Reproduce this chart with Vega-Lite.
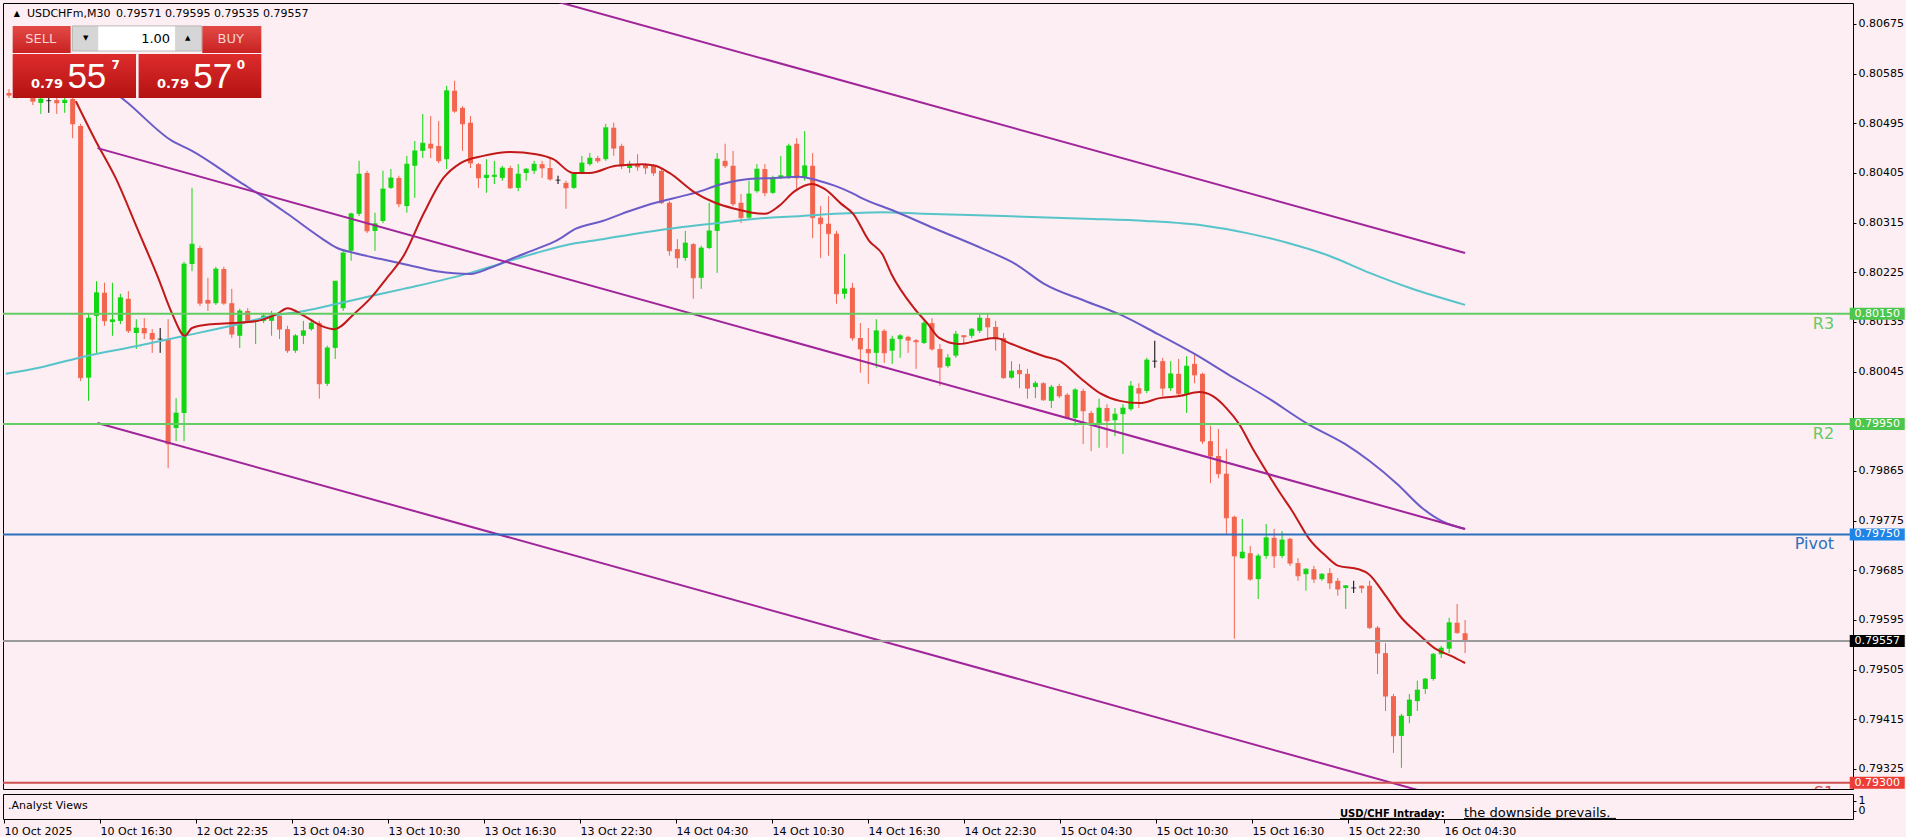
{
"$schema":"https://vega.github.io/schema/vega-lite/v6.json",
"background":"#FCEEF2",
"padding":{"left":2,"top":2,"right":0,"bottom":0},
"spacing":3,
"config":{"view":{"stroke":"#000000","strokeWidth":1,"fill":"#FCEEF2"},"font":"DejaVu Sans"},
"datasets":{
"candles":[
{"i":0,"o":0.8055,"h":0.80557,"l":0.80541,"c":0.80546},
{"i":1,"o":0.80546,"h":0.80552,"l":0.8054,"c":0.80549},
{"i":2,"o":0.80549,"h":0.80556,"l":0.80541,"c":0.80545},
{"i":3,"o":0.80541,"h":0.80546,"l":0.80528,"c":0.80535},
{"i":4,"o":0.80532,"h":0.80545,"l":0.80512,"c":0.80539},
{"i":5,"o":0.80536,"h":0.80545,"l":0.80514,"c":0.80536},
{"i":6,"o":0.80537,"h":0.80543,"l":0.80512,"c":0.80532},
{"i":7,"o":0.80532,"h":0.80543,"l":0.80514,"c":0.80537},
{"i":8,"o":0.80539,"h":0.80545,"l":0.80468,"c":0.80494},
{"i":9,"o":0.8049,"h":0.80494,"l":0.80028,"c":0.80034},
{"i":10,"o":0.80034,"h":0.80151,"l":0.79992,"c":0.80142},
{"i":11,"o":0.80146,"h":0.80209,"l":0.80077,"c":0.80188},
{"i":12,"o":0.80188,"h":0.80206,"l":0.80128,"c":0.80137},
{"i":13,"o":0.80135,"h":0.80206,"l":0.8011,"c":0.80139},
{"i":14,"o":0.80137,"h":0.80186,"l":0.80131,"c":0.80179},
{"i":15,"o":0.80177,"h":0.80191,"l":0.80115,"c":0.80119},
{"i":16,"o":0.80115,"h":0.8014,"l":0.80086,"c":0.80124},
{"i":17,"o":0.80124,"h":0.80142,"l":0.80104,"c":0.80115},
{"i":18,"o":0.80115,"h":0.80122,"l":0.80079,"c":0.80104},
{"i":19,"o":0.80104,"h":0.80124,"l":0.80079,"c":0.80104},
{"i":20,"o":0.80104,"h":0.8014,"l":0.7987,"c":0.79914},
{"i":21,"o":0.79943,"h":0.79997,"l":0.79919,"c":0.7997},
{"i":22,"o":0.7997,"h":0.80244,"l":0.79919,"c":0.8024},
{"i":23,"o":0.8024,"h":0.80378,"l":0.80227,"c":0.80276},
{"i":24,"o":0.80269,"h":0.80273,"l":0.80164,"c":0.80169},
{"i":25,"o":0.80175,"h":0.80215,"l":0.80155,"c":0.80169},
{"i":26,"o":0.80169,"h":0.80235,"l":0.80166,"c":0.80231},
{"i":27,"o":0.80231,"h":0.80235,"l":0.80166,"c":0.80169},
{"i":28,"o":0.80169,"h":0.80195,"l":0.80106,"c":0.80113},
{"i":29,"o":0.8011,"h":0.80159,"l":0.80088,"c":0.80155},
{"i":30,"o":0.80155,"h":0.8016,"l":0.80133,"c":0.80137},
{"i":31,"o":0.80135,"h":0.8014,"l":0.80095,"c":0.80137},
{"i":32,"o":0.80137,"h":0.8015,"l":0.80133,"c":0.80146},
{"i":33,"o":0.80137,"h":0.80155,"l":0.8011,"c":0.80146},
{"i":34,"o":0.80146,"h":0.8015,"l":0.80104,"c":0.80122},
{"i":35,"o":0.80122,"h":0.80128,"l":0.80079,"c":0.80083},
{"i":36,"o":0.80083,"h":0.80113,"l":0.80079,"c":0.8011},
{"i":37,"o":0.8011,"h":0.80137,"l":0.80095,"c":0.80119},
{"i":38,"o":0.80122,"h":0.80137,"l":0.80119,"c":0.80133},
{"i":39,"o":0.80133,"h":0.80137,"l":0.79996,"c":0.80023},
{"i":40,"o":0.80023,"h":0.80092,"l":0.80019,"c":0.80088},
{"i":41,"o":0.80088,"h":0.80209,"l":0.80068,"c":0.80209},
{"i":42,"o":0.8016,"h":0.80264,"l":0.80155,"c":0.8026},
{"i":43,"o":0.80264,"h":0.80333,"l":0.80246,"c":0.80331},
{"i":44,"o":0.80331,"h":0.80427,"l":0.80327,"c":0.80403},
{"i":45,"o":0.80405,"h":0.80409,"l":0.80296,"c":0.803},
{"i":46,"o":0.803,"h":0.80333,"l":0.80264,"c":0.80313},
{"i":47,"o":0.80318,"h":0.80409,"l":0.80314,"c":0.80376},
{"i":48,"o":0.80378,"h":0.80412,"l":0.80376,"c":0.80396},
{"i":49,"o":0.80396,"h":0.804,"l":0.80343,"c":0.80349},
{"i":50,"o":0.80345,"h":0.80436,"l":0.80333,"c":0.80421},
{"i":51,"o":0.80418,"h":0.80463,"l":0.8036,"c":0.80445},
{"i":52,"o":0.80445,"h":0.80512,"l":0.80432,"c":0.80459},
{"i":53,"o":0.80458,"h":0.80508,"l":0.80432,"c":0.8045},
{"i":54,"o":0.80454,"h":0.80499,"l":0.80423,"c":0.80427},
{"i":55,"o":0.8043,"h":0.80563,"l":0.80412,"c":0.80554},
{"i":56,"o":0.80554,"h":0.80572,"l":0.80514,"c":0.80517},
{"i":57,"o":0.80523,"h":0.80526,"l":0.80445,"c":0.80494},
{"i":58,"o":0.80496,"h":0.80508,"l":0.80414,"c":0.80423},
{"i":59,"o":0.80421,"h":0.80423,"l":0.80378,"c":0.80396},
{"i":60,"o":0.80396,"h":0.8043,"l":0.80369,"c":0.80401},
{"i":61,"o":0.80398,"h":0.80427,"l":0.80385,"c":0.80401},
{"i":62,"o":0.80396,"h":0.80418,"l":0.80391,"c":0.80414},
{"i":63,"o":0.80414,"h":0.80418,"l":0.80376,"c":0.80378},
{"i":64,"o":0.80378,"h":0.80421,"l":0.80372,"c":0.80403},
{"i":65,"o":0.80405,"h":0.80414,"l":0.80391,"c":0.80412},
{"i":66,"o":0.80409,"h":0.80427,"l":0.80403,"c":0.80421},
{"i":67,"o":0.80421,"h":0.80427,"l":0.80396,"c":0.80414},
{"i":68,"o":0.80414,"h":0.80432,"l":0.80391,"c":0.80394},
{"i":69,"o":0.80392,"h":0.804,"l":0.80385,"c":0.80392},
{"i":70,"o":0.80387,"h":0.80391,"l":0.8034,"c":0.80378},
{"i":71,"o":0.80378,"h":0.80403,"l":0.80376,"c":0.80403},
{"i":72,"o":0.80405,"h":0.80436,"l":0.80403,"c":0.80423},
{"i":73,"o":0.80421,"h":0.80441,"l":0.80418,"c":0.80432},
{"i":74,"o":0.80432,"h":0.80436,"l":0.80423,"c":0.80427},
{"i":75,"o":0.8043,"h":0.80494,"l":0.80427,"c":0.80487},
{"i":76,"o":0.80487,"h":0.80496,"l":0.80436,"c":0.8045},
{"i":77,"o":0.80454,"h":0.80458,"l":0.80412,"c":0.80418},
{"i":78,"o":0.80414,"h":0.80427,"l":0.80405,"c":0.80421},
{"i":79,"o":0.80421,"h":0.80439,"l":0.80409,"c":0.80416},
{"i":80,"o":0.8042,"h":0.80423,"l":0.80403,"c":0.80414},
{"i":81,"o":0.80418,"h":0.80421,"l":0.804,"c":0.80405},
{"i":82,"o":0.80409,"h":0.80412,"l":0.80349,"c":0.80351},
{"i":83,"o":0.80351,"h":0.80354,"l":0.80255,"c":0.80264},
{"i":84,"o":0.80267,"h":0.80285,"l":0.80233,"c":0.80251},
{"i":85,"o":0.80251,"h":0.803,"l":0.80246,"c":0.80278},
{"i":86,"o":0.80276,"h":0.80278,"l":0.80177,"c":0.80215},
{"i":87,"o":0.80215,"h":0.80273,"l":0.80195,"c":0.80269},
{"i":88,"o":0.80269,"h":0.80351,"l":0.80267,"c":0.803},
{"i":89,"o":0.803,"h":0.80441,"l":0.80224,"c":0.8043},
{"i":90,"o":0.80427,"h":0.80458,"l":0.80414,"c":0.80418},
{"i":91,"o":0.80418,"h":0.80445,"l":0.80345,"c":0.80349},
{"i":92,"o":0.80351,"h":0.80367,"l":0.80314,"c":0.80324},
{"i":93,"o":0.80324,"h":0.80391,"l":0.80322,"c":0.80367},
{"i":94,"o":0.80372,"h":0.80421,"l":0.80369,"c":0.80412},
{"i":95,"o":0.80412,"h":0.80421,"l":0.80363,"c":0.80369},
{"i":96,"o":0.80369,"h":0.804,"l":0.80367,"c":0.80396},
{"i":97,"o":0.80396,"h":0.80436,"l":0.80394,"c":0.804},
{"i":98,"o":0.80396,"h":0.80458,"l":0.80394,"c":0.80454},
{"i":99,"o":0.80458,"h":0.80468,"l":0.80372,"c":0.80396},
{"i":100,"o":0.80396,"h":0.80481,"l":0.80391,"c":0.80418},
{"i":101,"o":0.80418,"h":0.80441,"l":0.80287,"c":0.80324},
{"i":102,"o":0.80324,"h":0.80345,"l":0.80251,"c":0.80313},
{"i":103,"o":0.80313,"h":0.80363,"l":0.80255,"c":0.80295},
{"i":104,"o":0.80295,"h":0.803,"l":0.80168,"c":0.80186},
{"i":105,"o":0.80186,"h":0.80258,"l":0.80177,"c":0.80195},
{"i":106,"o":0.80197,"h":0.80206,"l":0.80101,"c":0.80106},
{"i":107,"o":0.80106,"h":0.80133,"l":0.80043,"c":0.80086},
{"i":108,"o":0.80086,"h":0.80124,"l":0.80023,"c":0.80079},
{"i":109,"o":0.80079,"h":0.8014,"l":0.80052,"c":0.80119},
{"i":110,"o":0.80119,"h":0.80122,"l":0.80061,"c":0.80079},
{"i":111,"o":0.80083,"h":0.8011,"l":0.80059,"c":0.80104},
{"i":112,"o":0.80104,"h":0.80113,"l":0.8007,"c":0.8011},
{"i":113,"o":0.80108,"h":0.8011,"l":0.80079,"c":0.80102},
{"i":114,"o":0.80102,"h":0.80104,"l":0.8005,"c":0.80099},
{"i":115,"o":0.80097,"h":0.80137,"l":0.80095,"c":0.80133},
{"i":116,"o":0.80133,"h":0.80142,"l":0.80083,"c":0.80086},
{"i":117,"o":0.80086,"h":0.80095,"l":0.80019,"c":0.80053},
{"i":118,"o":0.80055,"h":0.80077,"l":0.80052,"c":0.8007},
{"i":119,"o":0.80074,"h":0.80119,"l":0.8007,"c":0.80113},
{"i":120,"o":0.80111,"h":0.80111,"l":0.80097,"c":0.80108},
{"i":121,"o":0.8011,"h":0.80124,"l":0.80106,"c":0.80122},
{"i":122,"o":0.80119,"h":0.8015,"l":0.80115,"c":0.80142},
{"i":123,"o":0.80142,"h":0.80151,"l":0.80106,"c":0.80126},
{"i":124,"o":0.80126,"h":0.80137,"l":0.80083,"c":0.80104},
{"i":125,"o":0.80106,"h":0.80115,"l":0.80032,"c":0.80034},
{"i":126,"o":0.80034,"h":0.80064,"l":0.80032,"c":0.80046},
{"i":127,"o":0.80048,"h":0.80059,"l":0.80015,"c":0.80041},
{"i":128,"o":0.80041,"h":0.8005,"l":0.79996,"c":0.80015},
{"i":129,"o":0.80017,"h":0.80028,"l":0.79997,"c":0.80024},
{"i":130,"o":0.80024,"h":0.80026,"l":0.79992,"c":0.79994},
{"i":131,"o":0.79992,"h":0.80021,"l":0.79979,"c":0.80017},
{"i":132,"o":0.80019,"h":0.80023,"l":0.79997,"c":0.80001},
{"i":133,"o":0.80003,"h":0.80006,"l":0.79959,"c":0.79961},
{"i":134,"o":0.79961,"h":0.80015,"l":0.79947,"c":0.80012},
{"i":135,"o":0.8001,"h":0.80014,"l":0.79914,"c":0.79974},
{"i":136,"o":0.7997,"h":0.79974,"l":0.79901,"c":0.79952},
{"i":137,"o":0.79952,"h":0.79996,"l":0.79907,"c":0.79979},
{"i":138,"o":0.79979,"h":0.79986,"l":0.79907,"c":0.79956},
{"i":139,"o":0.79957,"h":0.79979,"l":0.79928,"c":0.79968},
{"i":140,"o":0.79968,"h":0.79986,"l":0.79896,"c":0.79979},
{"i":141,"o":0.79977,"h":0.80028,"l":0.79974,"c":0.80019},
{"i":142,"o":0.80015,"h":0.80024,"l":0.79979,"c":0.80006},
{"i":143,"o":0.8001,"h":0.8007,"l":0.80006,"c":0.80066},
{"i":144,"o":0.80064,"h":0.80101,"l":0.80052,"c":0.80064},
{"i":145,"o":0.80064,"h":0.8007,"l":0.80001,"c":0.80015},
{"i":146,"o":0.80015,"h":0.80064,"l":0.8001,"c":0.80041},
{"i":147,"o":0.80041,"h":0.80068,"l":0.80001,"c":0.80005},
{"i":148,"o":0.80005,"h":0.80073,"l":0.7997,"c":0.80055},
{"i":149,"o":0.80059,"h":0.80077,"l":0.80024,"c":0.80039},
{"i":150,"o":0.80041,"h":0.80043,"l":0.79914,"c":0.79919},
{"i":151,"o":0.79919,"h":0.79947,"l":0.79843,"c":0.79892},
{"i":152,"o":0.79892,"h":0.79941,"l":0.79852,"c":0.7986},
{"i":153,"o":0.7986,"h":0.79905,"l":0.79751,"c":0.7978},
{"i":154,"o":0.79782,"h":0.79784,"l":0.79561,"c":0.79711},
{"i":155,"o":0.79707,"h":0.79778,"l":0.79706,"c":0.79718},
{"i":156,"o":0.79716,"h":0.79729,"l":0.79666,"c":0.79669},
{"i":157,"o":0.79669,"h":0.79715,"l":0.79633,"c":0.79711},
{"i":158,"o":0.79711,"h":0.79769,"l":0.79706,"c":0.79744},
{"i":159,"o":0.79744,"h":0.7976,"l":0.79689,"c":0.79711},
{"i":160,"o":0.79711,"h":0.79756,"l":0.79707,"c":0.7974},
{"i":161,"o":0.79742,"h":0.79744,"l":0.79693,"c":0.79698},
{"i":162,"o":0.79698,"h":0.79707,"l":0.79666,"c":0.79675},
{"i":163,"o":0.79678,"h":0.79689,"l":0.79648,"c":0.79687},
{"i":164,"o":0.79687,"h":0.79693,"l":0.79662,"c":0.79669},
{"i":165,"o":0.79669,"h":0.7968,"l":0.79666,"c":0.79678},
{"i":166,"o":0.7968,"h":0.79689,"l":0.79651,"c":0.79662},
{"i":167,"o":0.79666,"h":0.79671,"l":0.79639,"c":0.79651},
{"i":168,"o":0.79653,"h":0.79658,"l":0.79615,"c":0.79657},
{"i":169,"o":0.79653,"h":0.79666,"l":0.79644,"c":0.79653},
{"i":170,"o":0.79657,"h":0.79658,"l":0.79644,"c":0.79653},
{"i":171,"o":0.79657,"h":0.79666,"l":0.79579,"c":0.79581},
{"i":172,"o":0.79581,"h":0.79584,"l":0.79497,"c":0.79535},
{"i":173,"o":0.79535,"h":0.79553,"l":0.7943,"c":0.79457},
{"i":174,"o":0.79457,"h":0.79461,"l":0.79354,"c":0.79385},
{"i":175,"o":0.79385,"h":0.79425,"l":0.79327,"c":0.79421},
{"i":176,"o":0.79421,"h":0.79461,"l":0.79408,"c":0.7945},
{"i":177,"o":0.79448,"h":0.79485,"l":0.7943,"c":0.79468},
{"i":178,"o":0.7947,"h":0.7949,"l":0.79461,"c":0.79488},
{"i":179,"o":0.79488,"h":0.79535,"l":0.79485,"c":0.79533},
{"i":180,"o":0.79533,"h":0.79548,"l":0.79526,"c":0.79544},
{"i":181,"o":0.79543,"h":0.79599,"l":0.79535,"c":0.7959},
{"i":182,"o":0.7959,"h":0.79624,"l":0.7957,"c":0.79572},
{"i":183,"o":0.79571,"h":0.79595,"l":0.79535,"c":0.79557}
],
"ma_red":[
{"i":8.4,"v":0.80535},{"i":10.9,"v":0.80463},{"i":13.4,"v":0.80396},{"i":16.25,"v":0.803},{"i":18.75,"v":0.80215},{"i":20.5,"v":0.8015},{"i":22.1,"v":0.8011},{"i":23,"v":0.80124},{"i":25.5,"v":0.80131},{"i":28,"v":0.80133},{"i":31.25,"v":0.80137},{"i":33.75,"v":0.8015},{"i":35,"v":0.8016},{"i":37.1,"v":0.80146},{"i":39.25,"v":0.80128},{"i":40.9,"v":0.80122},{"i":43.4,"v":0.8015},{"i":45.5,"v":0.80179},{"i":47.5,"v":0.80215},{"i":49.6,"v":0.80255},{"i":52.1,"v":0.80331},{"i":54.6,"v":0.80396},{"i":56.75,"v":0.80423},{"i":59.6,"v":0.80436},{"i":63,"v":0.80443},{"i":66.25,"v":0.80439},{"i":68.4,"v":0.8043},{"i":70.9,"v":0.80405},{"i":73,"v":0.80405},{"i":76.25,"v":0.80418},{"i":79.6,"v":0.80421},{"i":81.25,"v":0.80418},{"i":83,"v":0.80405},{"i":86.25,"v":0.80369},{"i":88.75,"v":0.80351},{"i":91.25,"v":0.8034},{"i":93.4,"v":0.80333},{"i":95,"v":0.80331},{"i":96.75,"v":0.80345},{"i":98.75,"v":0.80372},{"i":100.9,"v":0.80385},{"i":102.5,"v":0.80376},{"i":104.6,"v":0.80349},{"i":106.1,"v":0.80331},{"i":108.1,"v":0.80282},{"i":109.75,"v":0.80258},{"i":110.9,"v":0.80222},{"i":113.75,"v":0.8016},{"i":115.5,"v":0.80131},{"i":116.9,"v":0.80106},{"i":119.4,"v":0.80095},{"i":122,"v":0.80102},{"i":124,"v":0.80106},{"i":126,"v":0.80095},{"i":130.1,"v":0.80073},{"i":132.1,"v":0.80064},{"i":134.6,"v":0.80034},{"i":137.1,"v":0.80006},{"i":139.6,"v":0.79992},{"i":142.1,"v":0.79988},{"i":144.6,"v":0.79997},{"i":147.1,"v":0.80001},{"i":149.6,"v":0.80008},{"i":151.25,"v":0.80001},{"i":153,"v":0.79979},{"i":154.6,"v":0.7995},{"i":156.25,"v":0.79907},{"i":158,"v":0.79865},{"i":159.75,"v":0.79825},{"i":161.25,"v":0.79793},{"i":163.4,"v":0.79742},{"i":165.5,"v":0.79711},{"i":167.1,"v":0.79693},{"i":169.6,"v":0.79687},{"i":170.9,"v":0.79678},{"i":173,"v":0.79639},{"i":175,"v":0.79599},{"i":177.1,"v":0.7957},{"i":179.25,"v":0.79543},{"i":181.25,"v":0.7953},{"i":183,"v":0.79517}
],
"ma_blue":[
{"i":10,"v":0.80586},{"i":14.6,"v":0.80536},{"i":20.5,"v":0.80463},{"i":23,"v":0.80445},{"i":28.75,"v":0.80391},{"i":32.1,"v":0.8036},{"i":35,"v":0.80331},{"i":39.25,"v":0.80287},{"i":41.25,"v":0.80269},{"i":43.4,"v":0.8026},{"i":46.75,"v":0.80249},{"i":49.6,"v":0.8024},{"i":53.75,"v":0.80227},{"i":58,"v":0.80222},{"i":60.5,"v":0.80233},{"i":63.4,"v":0.80251},{"i":66.25,"v":0.80267},{"i":68.75,"v":0.80282},{"i":71.25,"v":0.80304},{"i":74.6,"v":0.80318},{"i":78,"v":0.80336},{"i":81.25,"v":0.80351},{"i":84.6,"v":0.80363},{"i":86.25,"v":0.80369},{"i":89.6,"v":0.80385},{"i":93,"v":0.80394},{"i":96.25,"v":0.80396},{"i":99.25,"v":0.80398},{"i":101.75,"v":0.80391},{"i":103.75,"v":0.80382},{"i":105.9,"v":0.80369},{"i":107.1,"v":0.8036},{"i":111.25,"v":0.80336},{"i":116.4,"v":0.80304},{"i":122.5,"v":0.80267},{"i":126.5,"v":0.8024},{"i":130.1,"v":0.80204},{"i":135.25,"v":0.80173},{"i":139.4,"v":0.8015},{"i":144.4,"v":0.80113},{"i":149,"v":0.80077},{"i":153.1,"v":0.80041},{"i":158.25,"v":0.79997},{"i":163.25,"v":0.7995},{"i":167.9,"v":0.79914},{"i":171,"v":0.79883},{"i":174.5,"v":0.79841},{"i":177.6,"v":0.79798},{"i":180.1,"v":0.79774},{"i":183,"v":0.7976}
],
"ma_cyan":[
{"i":-0.4,"v":0.80041},{"i":3.75,"v":0.80052},{"i":9.6,"v":0.80073},{"i":16.25,"v":0.80092},{"i":22.1,"v":0.8011},{"i":28.75,"v":0.80131},{"i":33,"v":0.80146},{"i":37.1,"v":0.80155},{"i":41.25,"v":0.80168},{"i":45.5,"v":0.80182},{"i":49.6,"v":0.80195},{"i":58,"v":0.80224},{"i":62.1,"v":0.80242},{"i":66.25,"v":0.8026},{"i":70.5,"v":0.80276},{"i":74.6,"v":0.80285},{"i":78.75,"v":0.80295},{"i":83,"v":0.80304},{"i":87.1,"v":0.80311},{"i":91.25,"v":0.80318},{"i":95.5,"v":0.80324},{"i":99.6,"v":0.80327},{"i":103.75,"v":0.80331},{"i":109.75,"v":0.80334},{"i":114.9,"v":0.80331},{"i":125,"v":0.80327},{"i":135.25,"v":0.80322},{"i":142.9,"v":0.80318},{"i":150.5,"v":0.80309},{"i":155.6,"v":0.80296},{"i":160.75,"v":0.80278},{"i":165.9,"v":0.80255},{"i":171,"v":0.80224},{"i":176,"v":0.80197},{"i":183,"v":0.80166}
],
"channel":[
{"line":"upper","i":11.125,"v":0.80946},{"line":"upper","i":183,"v":0.8026},
{"line":"middle","i":11.125,"v":0.8045},{"line":"middle","i":183,"v":0.7976},
{"line":"lower","i":11.125,"v":0.79952},{"line":"lower","i":183,"v":0.79263}
],
"levels":[
{"name":"R3","v":0.8015},{"name":"R2","v":0.7995},{"name":"Pivot","v":0.7975},{"name":"S1","v":0.793},{"name":"Bid","v":0.79557}
]
},
"vconcat":[
{
"width":1850,"height":786,
"data":{"values":[{}]},
"layer":[
{"data":{"name":"candles"},"mark":{"type":"rule","strokeWidth":1,"clip":true},
 "encoding":{
  "x":{"field":"i","type":"quantitative","scale":{"domain":[-0.125,231.125],"nice":false,"zero":false},"axis":{"labels":false,"ticks":false,"domain":false,"grid":false,"title":null}},
  "y":{"field":"l","type":"quantitative","scale":{"domain":[0.792887,0.80713],"nice":false,"zero":false},
   "axis":{"orient":"right","values":[0.80675,0.80585,0.80495,0.80405,0.80315,0.80225,0.80135,0.80045,0.79865,0.79775,0.79685,0.79595,0.79505,0.79415,0.79325],"format":".5f","title":null,"grid":false,"domain":false,"ticks":true,"tickSize":3,"tickColor":"#000000","labelColor":"#000000","labelFont":"DejaVu Sans","labelFontSize":11,"labelPadding":2,"labelAlign":"left","labelBaseline":"middle","labelOverlap":false,"labelBound":false,"labelFlush":false}},
  "y2":{"field":"h"},
  "color":{"condition":[{"test":"datum.c > datum.o","value":"#12D612"},{"test":"datum.c < datum.o","value":"#F2654E"}],"value":"#000000"}}},
{"data":{"name":"candles"},"mark":{"type":"bar","size":5,"clip":true},
 "encoding":{
  "x":{"field":"i","type":"quantitative","scale":{"domain":[-0.125,231.125],"nice":false,"zero":false}},
  "y":{"field":"o","type":"quantitative","scale":{"domain":[0.792887,0.80713],"nice":false,"zero":false}},
  "y2":{"field":"c"},
  "color":{"condition":[{"test":"datum.c > datum.o","value":"#12D612"},{"test":"datum.c < datum.o","value":"#F2654E"}],"value":"#000000"}}},
{"data":{"name":"candles"},"mark":{"type":"tick","orient":"horizontal","size":5,"thickness":1,"clip":true},
 "encoding":{
  "x":{"field":"i","type":"quantitative","scale":{"domain":[-0.125,231.125],"nice":false,"zero":false}},
  "y":{"field":"c","type":"quantitative","scale":{"domain":[0.792887,0.80713],"nice":false,"zero":false}},
  "color":{"condition":[{"test":"datum.c > datum.o","value":"#12D612"},{"test":"datum.c < datum.o","value":"#F2654E"}],"value":"#000000"}}},
{"data":{"name":"ma_cyan"},"mark":{"type":"line","strokeWidth":2,"color":"#57C4CA","interpolate":"monotone","clip":true},
 "encoding":{
  "x":{"field":"i","type":"quantitative","scale":{"domain":[-0.125,231.125],"nice":false,"zero":false}},
  "y":{"field":"v","type":"quantitative","scale":{"domain":[0.792887,0.80713],"nice":false,"zero":false}}}},
{"data":{"name":"ma_blue"},"mark":{"type":"line","strokeWidth":2,"color":"#6A5BC8","interpolate":"monotone","clip":true},
 "encoding":{
  "x":{"field":"i","type":"quantitative","scale":{"domain":[-0.125,231.125],"nice":false,"zero":false}},
  "y":{"field":"v","type":"quantitative","scale":{"domain":[0.792887,0.80713],"nice":false,"zero":false}}}},
{"data":{"name":"ma_red"},"mark":{"type":"line","strokeWidth":2,"color":"#C21818","interpolate":"monotone","clip":true},
 "encoding":{
  "x":{"field":"i","type":"quantitative","scale":{"domain":[-0.125,231.125],"nice":false,"zero":false}},
  "y":{"field":"v","type":"quantitative","scale":{"domain":[0.792887,0.80713],"nice":false,"zero":false}}}},
{"data":{"name":"channel"},"mark":{"type":"line","strokeWidth":2,"color":"#A0259A","clip":true},
 "encoding":{
  "x":{"field":"i","type":"quantitative","scale":{"domain":[-0.125,231.125],"nice":false,"zero":false}},
  "y":{"field":"v","type":"quantitative","scale":{"domain":[0.792887,0.80713],"nice":false,"zero":false}},
  "detail":{"field":"line","type":"nominal"}}},
{"data":{"name":"levels"},"mark":{"type":"rule","clip":true},
 "encoding":{
  "y":{"field":"v","type":"quantitative","scale":{"domain":[0.792887,0.80713],"nice":false,"zero":false}},
  "color":{"field":"name","type":"nominal","scale":{"domain":["R3","R2","Pivot","S1","Bid"],"range":["#62CC62","#62CC62","#2C70BC","#CC4E4E","#9A9A9A"]},"legend":null},
  "strokeWidth":{"field":"name","type":"nominal","scale":{"domain":["R3","R2","Pivot","S1","Bid"],"range":[2,2,2,2,1]},"legend":null}}},
{"data":{"name":"levels"},"transform":[{"filter":"datum.name != 'Bid'"}],"mark":{"type":"text","align":"right","baseline":"top","dy":2,"fontSize":16,"font":"DejaVu Sans","clip":true},
 "encoding":{
  "x":{"datum":229.375,"type":"quantitative","scale":{"domain":[-0.125,231.125],"nice":false,"zero":false}},
  "y":{"field":"v","type":"quantitative","scale":{"domain":[0.792887,0.80713],"nice":false,"zero":false}},
  "text":{"field":"name"},
  "color":{"field":"name","type":"nominal","scale":{"domain":["R3","R2","Pivot","S1","Bid"],"range":["#62CC62","#62CC62","#2C70BC","#CC4E4E","#9A9A9A"]},"legend":null}}},
{"data":{"name":"levels"},"mark":{"type":"tick","orient":"horizontal","size":55,"thickness":12,"clip":false,"opacity":1},
 "encoding":{
  "x":{"datum":234.8,"type":"quantitative","scale":{"domain":[-0.125,231.125],"nice":false,"zero":false}},
  "y":{"field":"v","type":"quantitative","scale":{"domain":[0.792887,0.80713],"nice":false,"zero":false}},
  "fill":{"field":"name","type":"nominal","scale":{"domain":["R3","R2","Pivot","S1","Bid"],"range":["#4CC64C","#4CC64C","#1E84E6","#EC3D36","#000000"]},"legend":null}}},
{"data":{"name":"levels"},"mark":{"type":"text","align":"center","baseline":"middle","fontSize":11,"font":"DejaVu Sans","color":"#FFFFFF","clip":false},
 "encoding":{
  "x":{"datum":234.8,"type":"quantitative","scale":{"domain":[-0.125,231.125],"nice":false,"zero":false}},
  "y":{"field":"v","type":"quantitative","scale":{"domain":[0.792887,0.80713],"nice":false,"zero":false}},
  "text":{"field":"v","format":".5f"}}},
{"mark":{"type":"rect","fill":{"gradient":"linear","x1":0,"y1":0,"x2":0,"y2":1,"stops":[{"offset":0,"color":"#E24A45"},{"offset":1,"color":"#C82222"}]}},
 "encoding":{"x":{"datum":0.4625,"type":"quantitative","scale":{"domain":[-0.125,231.125],"nice":false,"zero":false}},"x2":{"datum":7.75},"y":{"datum":0.806714,"type":"quantitative","scale":{"domain":[0.792887,0.80713],"nice":false,"zero":false}},"y2":{"datum":0.806225}}},
{"mark":{"type":"rect","fill":{"gradient":"linear","x1":0,"y1":0,"x2":0,"y2":1,"stops":[{"offset":0,"color":"#E24A45"},{"offset":1,"color":"#C82222"}]}},
 "encoding":{"x":{"datum":24.2875,"type":"quantitative","scale":{"domain":[-0.125,231.125],"nice":false,"zero":false}},"x2":{"datum":31.7125},"y":{"datum":0.806714,"type":"quantitative","scale":{"domain":[0.792887,0.80713],"nice":false,"zero":false}},"y2":{"datum":0.806225}}},
{"mark":{"type":"rect","fill":"#D6D6D6","stroke":"#B4B4B4","strokeWidth":1},
 "encoding":{"x":{"datum":7.9625,"type":"quantitative","scale":{"domain":[-0.125,231.125],"nice":false,"zero":false}},"x2":{"datum":24.2125},"y":{"datum":0.806714,"type":"quantitative","scale":{"domain":[0.792887,0.80713],"nice":false,"zero":false}},"y2":{"datum":0.806261}}},
{"mark":{"type":"rect","fill":"#FFFFFF"},
 "encoding":{"x":{"datum":11.2125,"type":"quantitative","scale":{"domain":[-0.125,231.125],"nice":false,"zero":false}},"x2":{"datum":20.875},"y":{"datum":0.806705,"type":"quantitative","scale":{"domain":[0.792887,0.80713],"nice":false,"zero":false}},"y2":{"datum":0.80627}}},
{"mark":{"type":"rect","fill":{"gradient":"linear","x1":0,"y1":0,"x2":0,"y2":1,"stops":[{"offset":0,"color":"#DE2C2C"},{"offset":1,"color":"#B41212"}]}},
 "encoding":{"x":{"datum":0.4625,"type":"quantitative","scale":{"domain":[-0.125,231.125],"nice":false,"zero":false}},"x2":{"datum":15.9625},"y":{"datum":0.806207,"type":"quantitative","scale":{"domain":[0.792887,0.80713],"nice":false,"zero":false}},"y2":{"datum":0.805409}}},
{"mark":{"type":"rect","fill":{"gradient":"linear","x1":0,"y1":0,"x2":0,"y2":1,"stops":[{"offset":0,"color":"#DE2C2C"},{"offset":1,"color":"#B41212"}]}},
 "encoding":{"x":{"datum":16.2875,"type":"quantitative","scale":{"domain":[-0.125,231.125],"nice":false,"zero":false}},"x2":{"datum":31.7125},"y":{"datum":0.806207,"type":"quantitative","scale":{"domain":[0.792887,0.80713],"nice":false,"zero":false}},"y2":{"datum":0.805409}}},
{"mark":{"type":"text","text":"▲","align":"center","baseline":"middle","fontSize":8,"color":"#000000"},
 "encoding":{"x":{"datum":1.0,"type":"quantitative","scale":{"domain":[-0.125,231.125],"nice":false,"zero":false}},"y":{"datum":0.806937,"type":"quantitative","scale":{"domain":[0.792887,0.80713],"nice":false,"zero":false}}}},
{"mark":{"type":"text","text":"USDCHFm,M30","align":"left","baseline":"middle","fontSize":11,"color":"#000000"},
 "encoding":{"x":{"datum":2.25,"type":"quantitative","scale":{"domain":[-0.125,231.125],"nice":false,"zero":false}},"y":{"datum":0.806937,"type":"quantitative","scale":{"domain":[0.792887,0.80713],"nice":false,"zero":false}}}},
{"mark":{"type":"text","text":"0.79571 0.79595 0.79535 0.79557","align":"left","baseline":"middle","fontSize":11,"color":"#000000"},
 "encoding":{"x":{"datum":13.4625,"type":"quantitative","scale":{"domain":[-0.125,231.125],"nice":false,"zero":false}},"y":{"datum":0.806937,"type":"quantitative","scale":{"domain":[0.792887,0.80713],"nice":false,"zero":false}}}},
{"mark":{"type":"text","text":"SELL","align":"center","baseline":"middle","fontSize":13,"color":"#FAD2D2"},
 "encoding":{"x":{"datum":4.0,"type":"quantitative","scale":{"domain":[-0.125,231.125],"nice":false,"zero":false}},"y":{"datum":0.806469,"type":"quantitative","scale":{"domain":[0.792887,0.80713],"nice":false,"zero":false}}}},
{"mark":{"type":"text","text":"BUY","align":"center","baseline":"middle","fontSize":13,"color":"#FAD2D2"},
 "encoding":{"x":{"datum":27.875,"type":"quantitative","scale":{"domain":[-0.125,231.125],"nice":false,"zero":false}},"y":{"datum":0.806469,"type":"quantitative","scale":{"domain":[0.792887,0.80713],"nice":false,"zero":false}}}},
{"mark":{"type":"text","text":"1.00","align":"right","baseline":"middle","fontSize":13,"color":"#000000"},
 "encoding":{"x":{"datum":20.25,"type":"quantitative","scale":{"domain":[-0.125,231.125],"nice":false,"zero":false}},"y":{"datum":0.806478,"type":"quantitative","scale":{"domain":[0.792887,0.80713],"nice":false,"zero":false}}}},
{"mark":{"type":"text","text":"▼","align":"center","baseline":"middle","fontSize":7,"color":"#000000"},
 "encoding":{"x":{"datum":9.625,"type":"quantitative","scale":{"domain":[-0.125,231.125],"nice":false,"zero":false}},"y":{"datum":0.806497,"type":"quantitative","scale":{"domain":[0.792887,0.80713],"nice":false,"zero":false}}}},
{"mark":{"type":"text","text":"▲","align":"center","baseline":"middle","fontSize":7,"color":"#000000"},
 "encoding":{"x":{"datum":22.46,"type":"quantitative","scale":{"domain":[-0.125,231.125],"nice":false,"zero":false}},"y":{"datum":0.806497,"type":"quantitative","scale":{"domain":[0.792887,0.80713],"nice":false,"zero":false}}}},
{"mark":{"type":"text","text":"0.79","align":"left","baseline":"alphabetic","fontSize":13,"fontWeight":"bold","color":"#FFFFFF"},
 "encoding":{"x":{"datum":2.75,"type":"quantitative","scale":{"domain":[-0.125,231.125],"nice":false,"zero":false}},"y":{"datum":0.805585,"type":"quantitative","scale":{"domain":[0.792887,0.80713],"nice":false,"zero":false}}}},
{"mark":{"type":"text","text":"55","align":"left","baseline":"alphabetic","fontSize":35,"font":"Liberation Sans","color":"#FFFFFF"},
 "encoding":{"x":{"datum":7.3375,"type":"quantitative","scale":{"domain":[-0.125,231.125],"nice":false,"zero":false}},"y":{"datum":0.805585,"type":"quantitative","scale":{"domain":[0.792887,0.80713],"nice":false,"zero":false}}}},
{"mark":{"type":"text","text":"7","align":"left","baseline":"alphabetic","fontSize":12,"fontWeight":"bold","color":"#FFFFFF"},
 "encoding":{"x":{"datum":12.875,"type":"quantitative","scale":{"domain":[-0.125,231.125],"nice":false,"zero":false}},"y":{"datum":0.805929,"type":"quantitative","scale":{"domain":[0.792887,0.80713],"nice":false,"zero":false}}}},
{"mark":{"type":"text","text":"0.79","align":"left","baseline":"alphabetic","fontSize":13,"fontWeight":"bold","color":"#FFFFFF"},
 "encoding":{"x":{"datum":18.5875,"type":"quantitative","scale":{"domain":[-0.125,231.125],"nice":false,"zero":false}},"y":{"datum":0.805585,"type":"quantitative","scale":{"domain":[0.792887,0.80713],"nice":false,"zero":false}}}},
{"mark":{"type":"text","text":"57","align":"left","baseline":"alphabetic","fontSize":35,"font":"Liberation Sans","color":"#FFFFFF"},
 "encoding":{"x":{"datum":23.1625,"type":"quantitative","scale":{"domain":[-0.125,231.125],"nice":false,"zero":false}},"y":{"datum":0.805585,"type":"quantitative","scale":{"domain":[0.792887,0.80713],"nice":false,"zero":false}}}},
{"mark":{"type":"text","text":"0","align":"left","baseline":"alphabetic","fontSize":12,"fontWeight":"bold","color":"#FFFFFF"},
 "encoding":{"x":{"datum":28.625,"type":"quantitative","scale":{"domain":[-0.125,231.125],"nice":false,"zero":false}},"y":{"datum":0.805929,"type":"quantitative","scale":{"domain":[0.792887,0.80713],"nice":false,"zero":false}}}}
]
},
{
"width":1850,"height":25,
"data":{"values":[{}]},
"layer":[
{"mark":{"type":"text","text":".Analyst Views","align":"left","baseline":"middle","fontSize":11,"color":"#000000"},
 "encoding":{
  "x":{"datum":0.5,"type":"quantitative","scale":{"domain":[-0.125,231.125],"nice":false,"zero":false},
   "axis":{"values":[0,12,24,36,48,60,72,84,96,108,120,132,144,156,168,180],"labelExpr":"['10 Oct 2025','10 Oct 16:30','12 Oct 22:35','13 Oct 04:30','13 Oct 10:30','13 Oct 16:30','13 Oct 22:30','14 Oct 04:30','14 Oct 10:30','14 Oct 16:30','14 Oct 22:30','15 Oct 04:30','15 Oct 10:30','15 Oct 16:30','15 Oct 22:30','16 Oct 04:30'][round(datum.value/12)]","title":null,"grid":false,"domain":false,"tickSize":4,"tickColor":"#000000","labelColor":"#000000","labelFont":"DejaVu Sans","labelFontSize":11,"labelAlign":"left","labelBaseline":"top","labelPadding":2,"labelOverlap":false,"labelFlush":false,"labelBound":false}},
  "y":{"datum":0.515,"type":"quantitative","scale":{"domain":[-0.777,1.65],"nice":false,"zero":false},
   "axis":{"orient":"right","values":[0,1],"format":"d","title":null,"grid":false,"domain":false,"tickSize":3,"tickColor":"#000000","labelColor":"#000000","labelFont":"DejaVu Sans","labelFontSize":11,"labelPadding":2,"labelAlign":"left","labelBaseline":"middle","labelOverlap":false,"labelFlush":false,"labelBound":false}}}},
{"mark":{"type":"text","text":"USD/CHF Intraday:","align":"left","baseline":"alphabetic","fontSize":10,"fontWeight":"bold","color":"#000000"},
 "encoding":{"x":{"datum":167.0,"type":"quantitative","scale":{"domain":[-0.125,231.125],"nice":false,"zero":false}},"y":{"datum":-0.612,"type":"quantitative","scale":{"domain":[-0.777,1.65],"nice":false,"zero":false}}}},
{"mark":{"type":"text","text":"the downside prevails.","align":"left","baseline":"alphabetic","fontSize":13,"color":"#000000"},
 "encoding":{"x":{"datum":182.5,"type":"quantitative","scale":{"domain":[-0.125,231.125],"nice":false,"zero":false}},"y":{"datum":-0.612,"type":"quantitative","scale":{"domain":[-0.777,1.65],"nice":false,"zero":false}}}},
{"mark":{"type":"rule","color":"#000000","strokeWidth":1},
 "encoding":{"x":{"datum":167.0,"type":"quantitative","scale":{"domain":[-0.125,231.125],"nice":false,"zero":false}},"x2":{"datum":178.5},"y":{"datum":-0.72,"type":"quantitative","scale":{"domain":[-0.777,1.65],"nice":false,"zero":false}}}},
{"mark":{"type":"rule","color":"#000000","strokeWidth":1},
 "encoding":{"x":{"datum":182.5,"type":"quantitative","scale":{"domain":[-0.125,231.125],"nice":false,"zero":false}},"x2":{"datum":201.5},"y":{"datum":-0.72,"type":"quantitative","scale":{"domain":[-0.777,1.65],"nice":false,"zero":false}}}}
]
}
]
}
